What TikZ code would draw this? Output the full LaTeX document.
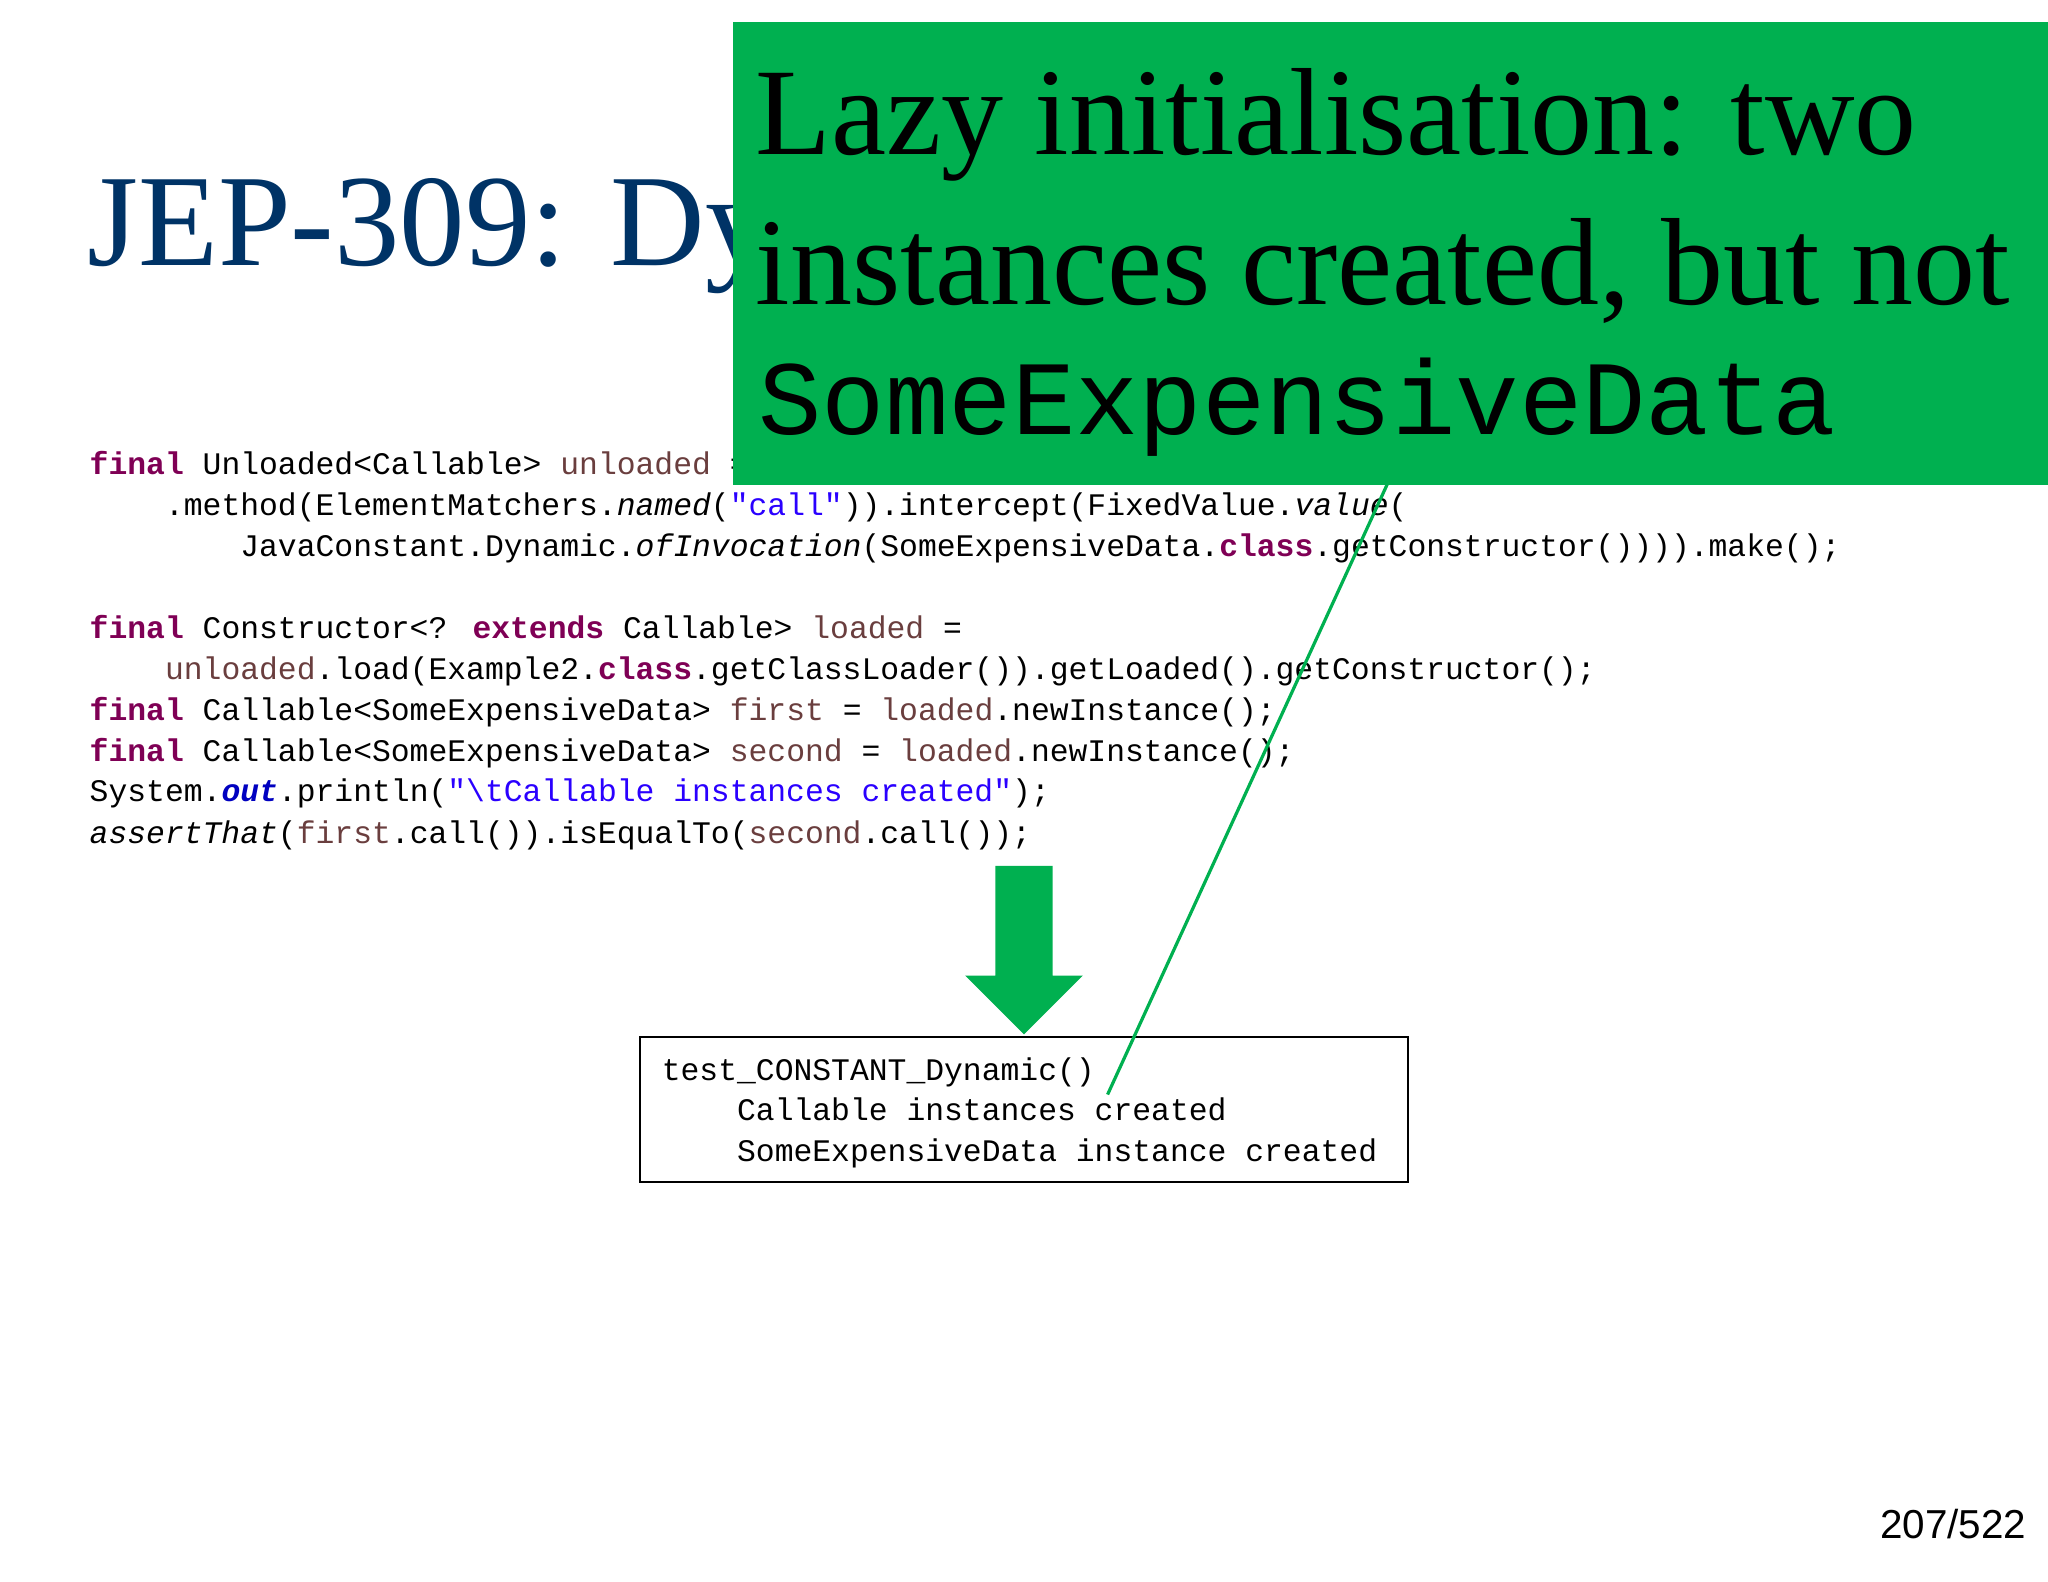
\documentclass[tikz,border=0pt]{standalone}
\usepackage{fontspec}
\setmainfont{Liberation Serif}
\newfontfamily\cmono{Liberation Mono}
\newfontfamily\csans{Liberation Sans}
\definecolor{kw}{HTML}{7F0055}
\definecolor{vr}{HTML}{6A3E3E}
\definecolor{st}{HTML}{2A00FF}
\definecolor{fd}{HTML}{0000C0}
\definecolor{gbox}{HTML}{00B050}
\definecolor{ttl}{HTML}{003366}
\newcommand\kw[1]{\textcolor{kw}{\bfseries #1}}
\newcommand\vr[1]{\textcolor{vr}{#1}}
\newcommand\st[1]{\textcolor{st}{#1}}
\begin{document}
\begin{tikzpicture}[x=0.01cm,y=-0.01cm,
  code/.style={anchor=base west,inner sep=0,font=\cmono\fontsize{6.83}{8}\selectfont},
  gtext/.style={anchor=base west,inner sep=0,font=\fontsize{27}{32}\selectfont}]
\useasboundingbox (0,0) rectangle (1568,1211);
\node[anchor=base west,inner sep=0,text=ttl,font=\fontsize{28.5}{34}\selectfont] (title) at (66,203) {JEP-309: Dynamic class-file constants};
\node[code] (c1) at (68,363) {\kw{final} Unloaded<Callable> \vr{unloaded} = \kw{new} ByteBuddy().subclass(Callable.\kw{class})};
\node[code] (c2) at (68,395) {\phantom{xxxx}.method(ElementMatchers.\textit{named}(\st{"call"})).intercept(FixedValue.\textit{value}(};
\node[code] (c3) at (68,426) {\phantom{xxxxxxxx}JavaConstant.Dynamic.\textit{ofInvocation}(SomeExpensiveData.\kw{class}.getConstructor()))).make();};
\node[code] (c4) at (68,489) {\kw{final} Constructor<? \kw{extends} Callable> \vr{loaded} =};
\node[code] (c5) at (68,520) {\phantom{xxxx}\vr{unloaded}.load(Example2.\kw{class}.getClassLoader()).getLoaded().getConstructor();};
\node[code] (c6) at (68,552) {\kw{final} Callable<SomeExpensiveData> \vr{first} = \vr{loaded}.newInstance();};
\node[code] (c7) at (68,583) {\kw{final} Callable<SomeExpensiveData> \vr{second} = \vr{loaded}.newInstance();};
\node[code] (c8) at (68,614) {System.\textcolor{fd}{\bfseries\itshape out}.println(\st{"\textbackslash tCallable instances created"});};
\node[code] (c9) at (68,646) {\textit{assertThat}(\vr{first}.call()).isEqualTo(\vr{second}.call());};
% arrow
\fill[gbox] (762,663) -- (806,663) -- (806,747) -- (829,747) -- (784,792) -- (739,747) -- (762,747) -- cycle;
% output box
\draw[line width=0.6pt] (490,794) rectangle (1078,905);
\node[code] (o1) at (506,827) {test\_CONSTANT\_Dynamic()};
\node[code] (o2) at (506,858) {\phantom{xxxx}Callable instances created};
\node[code] (o3) at (506,889) {\phantom{xxxx}SomeExpensiveData instance created};
\coordinate (lend) at (848,838);
% green callout
\fill[gbox] (561,17) rectangle (1568,371);
\coordinate (lstart) at (1062,371);
\draw[gbox,line width=0.7pt] (lstart) -- (lend);
\node[gtext] (g1) at (578,118) {Lazy initialisation: two};
\node[gtext] (g2) at (578,233) {instances created, but not};
\node[anchor=base west,inner sep=0,font=\cmono\fontsize{23}{28}\selectfont] (g3) at (580,333) {SomeExpensiveData};
\node[anchor=base east,inner sep=0,font=\csans\fontsize{8.8}{10}\selectfont] (pg) at (1552,1178) {207/522};
\end{tikzpicture}
\end{document}
